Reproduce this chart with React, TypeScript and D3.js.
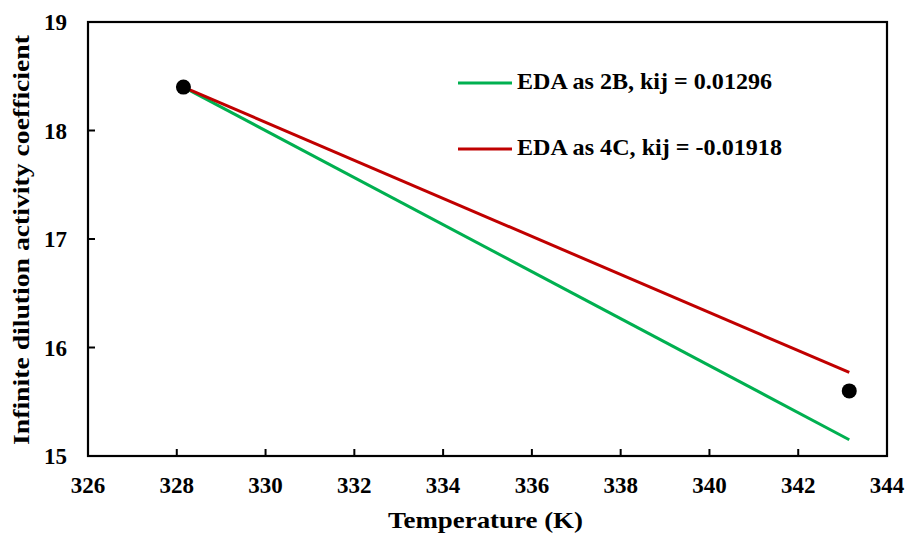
import React from "react";
import * as d3 from "d3";

const xTicks = [326, 328, 330, 332, 334, 336, 338, 340, 342, 344];
const yTicks = [15, 16, 17, 18, 19];

const expT = [328.15, 343.15];
const expGamma = [18.4, 15.6];

const modelT = [328.15, 343.15];
const eda2B = [18.4, 15.15];
const eda4C = [18.4, 15.77];

const seriesNames = ["EDA as 2B, kij = 0.01296", "EDA as 4C, kij = -0.01918"];
const seriesColors = ["#00B050", "#C00000"];

const W = 907;
const H = 536;
const margin = { top: 22, right: 20, bottom: 80, left: 88 };
const font = "Liberation Serif, serif";

const App = () => {
    const x = d3.scaleLinear().domain([326, 344]).range([margin.left, W - margin.right]);
    const y = d3.scaleLinear().domain([15, 19]).range([H - margin.bottom, margin.top]);

    const line = d3
        .line<[number, number]>()
        .x((d) => x(d[0]))
        .y((d) => y(d[1]));

    const series = [eda2B, eda4C].map((vals) =>
        modelT.map((t, i) => [t, vals[i]] as [number, number])
    );

    const x0 = x.range()[0];
    const x1 = x.range()[1];
    const y0 = y.range()[0];
    const y1 = y.range()[1];

    // the original text is set wider than our serif, so stretch to measured widths
    const legendLen = [255, 265];

    return (
        <svg
            width={W}
            height={H}
            style={{ position: "absolute", left: 0, top: 0, background: "white", fontFamily: font, fontWeight: "bold" }}
        >
            {/* ticks, pointing inward */}
            {xTicks.slice(1, -1).map((t) => (
                <line key={"xt" + t} x1={x(t)} x2={x(t)} y1={y0} y2={y0 - 7} stroke="black" strokeWidth={2} />
            ))}
            {yTicks.slice(1, -1).map((t) => (
                <line key={"yt" + t} x1={x0} x2={x0 + 7} y1={y(t)} y2={y(t)} stroke="black" strokeWidth={2} />
            ))}
            <rect x={x0} y={y1} width={x1 - x0} height={y0 - y1} fill="none" stroke="black" strokeWidth={2.2} />

            {xTicks.map((t) => (
                <text key={"xl" + t} x={x(t)} y={y0 + 37} textAnchor="middle" fontSize={23}>
                    {t}
                </text>
            ))}
            {yTicks.map((t) => (
                <text key={"yl" + t} x={x0 - 21} y={y(t) + 8} textAnchor="end" fontSize={23}>
                    {t}
                </text>
            ))}

            <text
                x={(x0 + x1) / 2 - 2}
                y={528}
                textAnchor="middle"
                fontSize={23}
                textLength={195}
                lengthAdjust="spacingAndGlyphs"
            >
                Temperature (K)
            </text>
            <text
                transform={`translate(29,240) rotate(-90)`}
                textAnchor="middle"
                fontSize={23}
                textLength={410}
                lengthAdjust="spacingAndGlyphs"
            >
                Infinite dilution activity coefficient
            </text>

            {series.map((s, i) => (
                <path key={"s" + i} d={line(s) || ""} fill="none" stroke={seriesColors[i]} strokeWidth={3} />
            ))}

            {expT.map((t, i) => (
                <circle key={"p" + i} cx={x(t)} cy={y(expGamma[i])} r={7.5} fill="black" />
            ))}

            {seriesNames.map((n, i) => (
                <g key={"lg" + i} transform={`translate(458,${83 + i * 66})`}>
                    <line x1={0} x2={54} y1={0} y2={0} stroke={seriesColors[i]} strokeWidth={3} />
                    <text
                        x={59}
                        y={6}
                        fontSize={23}
                        textLength={legendLen[i]}
                        lengthAdjust="spacingAndGlyphs"
                    >
                        {n}
                    </text>
                </g>
            ))}
        </svg>
    );
};

export default App;
